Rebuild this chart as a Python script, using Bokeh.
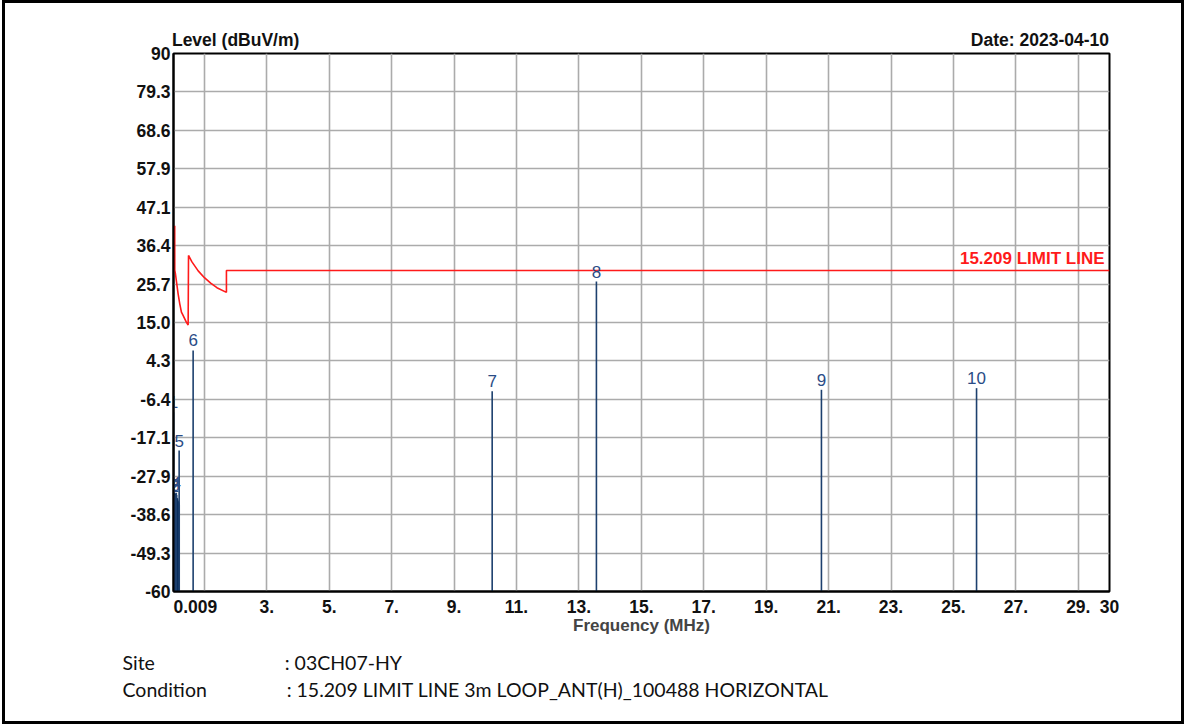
from bokeh.plotting import figure
from bokeh.models import Range1d, FixedTicker, LinearAxis, Title, ColumnDataSource
from bokeh.core.properties import value
from bokeh.embed import file_html
from bokeh.resources import INLINE

# ---------------- data ----------------
y_ticks = [-60, -49.3, -38.6, -27.9, -17.1, -6.4, 4.3, 15.0, 25.7, 36.4, 47.1, 57.9, 68.6, 79.3, 90]
y_tick_labels = ["-60", "-49.3", "-38.6", "-27.9", "-17.1", "-6.4", "4.3", "15.0", "25.7",
                 "36.4", "47.1", "57.9", "68.6", "79.3", "90"]
x_ticks = [0.009, 1, 3, 5, 7, 9, 11, 13, 15, 17, 19, 21, 23, 25, 27, 29, 30]
x_tick_labels = ["0.009", "", "3.", "5.", "7.", "9.", "11.", "13.", "15.", "17.", "19.", "21.",
                 "23.", "25.", "27.", "29.", "30"]

# 15.209 limit line (MHz, dBuV/m)
limit_freq = [0.048, 0.05, 0.07, 0.157, 0.21, 0.263, 0.316, 0.42, 0.478,
              0.49, 0.6, 0.8, 1.0, 1.2, 1.4, 1.705, 1.705, 30.0]
limit_level = [42.0, 29.6, 28.6, 23.0, 20.2, 17.9, 17.0, 15.1, 14.3,
               33.7, 31.9, 29.4, 27.5, 26.0, 24.7, 23.4, 29.5, 29.5]

# low-frequency spectrum trace (dense cluster near 0 MHz)
trace_freq = [0.012, 0.018, 0.024, 0.03, 0.036, 0.042, 0.048, 0.054, 0.06, 0.066, 0.072,
              0.078, 0.084, 0.09, 0.096, 0.102, 0.108, 0.114, 0.12, 0.126, 0.132, 0.138,
              0.144, 0.15, 0.156, 0.162, 0.168, 0.174, 0.18, 0.186]
trace_level = [-33.5, -35.0, -34.2, -33.0, -35.5, -34.8, -32.5, -35.2, -34.0, -33.8, -35.6,
               -34.5, -32.8, -35.0, -34.3, -33.1, -35.4, -34.7, -34.0, -35.3, -34.1, -35.8,
               -34.6, -35.1, -35.9, -34.9, -35.5, -36.0, -35.2, -35.7]

# peak markers
marker_id = ["1", "2", "3", "4", "5", "6", "7", "8", "9", "10"]
marker_freq = [0.009, 0.04, 0.07, 0.1, 0.19, 0.638, 10.22, 13.56, 20.77, 25.74]
marker_level = [-10.0, -33.5, -33.0, -32.5, -20.7, 7.2, -4.15, 26.4, -3.76, -3.3]

header_labels = ["Level (dBuV/m)", "Date: 2023-04-10"]
header_pos = [2.0, 27.77]          # centre of each header text, in MHz
site_name, site_value = "Site", ": 03CH07-HY"
cond_name, cond_value = "Condition", ": 15.209 LIMIT LINE 3m LOOP_ANT(H)_100488 HORIZONTAL"

NB = "\u00a0"
BOLD_FONT = "Liberation Sans"
FOOT_FONT = "Lato"

# ---------------- figure ----------------
p = figure(width=1182, height=724, output_backend="svg", toolbar_location=None,
           x_range=Range1d(0.009, 30), y_range=Range1d(-60, 90),
           min_border_left=168, min_border_right=78, min_border_top=50, min_border_bottom=136,
           styles={"border": "3px solid black", "margin-left": "2px"})
p.background_fill_color = "white"
p.border_fill_color = "white"
p.outline_line_color = "black"
p.outline_line_width = 2

for ax in (p.xaxis[0], p.yaxis[0]):
    ax.axis_line_color = "black"
    ax.axis_line_width = 2
    ax.major_tick_line_color = None
    ax.minor_tick_line_color = None
    ax.major_tick_out = 0
    ax.major_tick_in = 0
    ax.minor_tick_out = 0
    ax.minor_tick_in = 0
    ax.major_label_text_font = BOLD_FONT
    ax.major_label_text_font_style = "bold"
    ax.major_label_text_font_size = "17.5px"
    ax.major_label_text_color = "#111111"

p.yaxis.ticker = FixedTicker(ticks=y_ticks)
p.yaxis.major_label_overrides = {t: l for t, l in zip(y_ticks, y_tick_labels)}
p.yaxis.major_label_standoff = 3

x_over = {t: l for t, l in zip(x_ticks, x_tick_labels)}
x_over[0.009] = NB * 9 + "0.009"     # left-aligned at the axis origin like the reference
p.xaxis.ticker = FixedTicker(ticks=x_ticks)
p.xaxis.major_label_overrides = x_over
p.xaxis.major_label_standoff = 5
p.xaxis.axis_label = "Frequency (MHz)"
p.xaxis.axis_label_text_font = BOLD_FONT
p.xaxis.axis_label_text_font_style = "bold"
p.xaxis.axis_label_text_font_size = "17px"
p.xaxis.axis_label_standoff = -4

p.grid.grid_line_color = "#ababab"
p.grid.grid_line_width = 1.6

# header texts ("Level (dBuV/m)" and the date) as labels of an axis above the frame
top = LinearAxis(ticker=FixedTicker(ticks=header_pos),
                 major_label_overrides={t: l for t, l in zip(header_pos, header_labels)})
top.axis_line_color = None
top.major_tick_line_color = None
top.minor_tick_line_color = None
top.major_tick_out = 0
top.major_tick_in = 0
top.minor_tick_out = 0
top.minor_tick_in = 0
top.major_label_standoff = 4
top.major_label_text_font = BOLD_FONT
top.major_label_text_font_style = "bold"
top.major_label_text_font_size = "17.5px"
top.major_label_text_color = "#111111"
p.add_layout(top, "above")

BAR = "#1d406e"
p.segment(x0=trace_freq, y0=[-60] * len(trace_freq), x1=trace_freq, y1=trace_level,
          line_color="#0b2f5e", line_width=2)
p.segment(x0=marker_freq, y0=[-60] * len(marker_freq), x1=marker_freq, y1=marker_level,
          line_color=BAR, line_width=1.6)

p.line(limit_freq, limit_level, line_color="#ff1a1a", line_width=1.6)

msrc = ColumnDataSource(dict(x=marker_freq, y=marker_level, t=marker_id))
p.text(x="x", y="y", text="t", source=msrc, y_offset=-4, text_align="center",
       text_baseline="bottom", text_font=value("Liberation Sans"), text_font_size="17px",
       text_color="#2a4c86")

p.text(x=[30], y=[29.5], text=["15.209 LIMIT LINE"], x_offset=-5, y_offset=-2,
       text_align="right", text_baseline="bottom", text_font=value(BOLD_FONT),
       text_font_style="bold", text_font_size="17px", text_color="#ff1a1a")

# footer rows
for name, val, pad, so in [(site_name, site_value, 26, 23), (cond_name, cond_value, 16, -20)]:
    t = Title(text=name + NB * pad + val, align="left", offset=-51, standoff=so,
              text_font=FOOT_FONT, text_font_size="19.5px", text_font_style="normal",
              text_color="#111111")
    p.add_layout(t, "below")

open("out.html", "w").write(file_html(p, INLINE))
